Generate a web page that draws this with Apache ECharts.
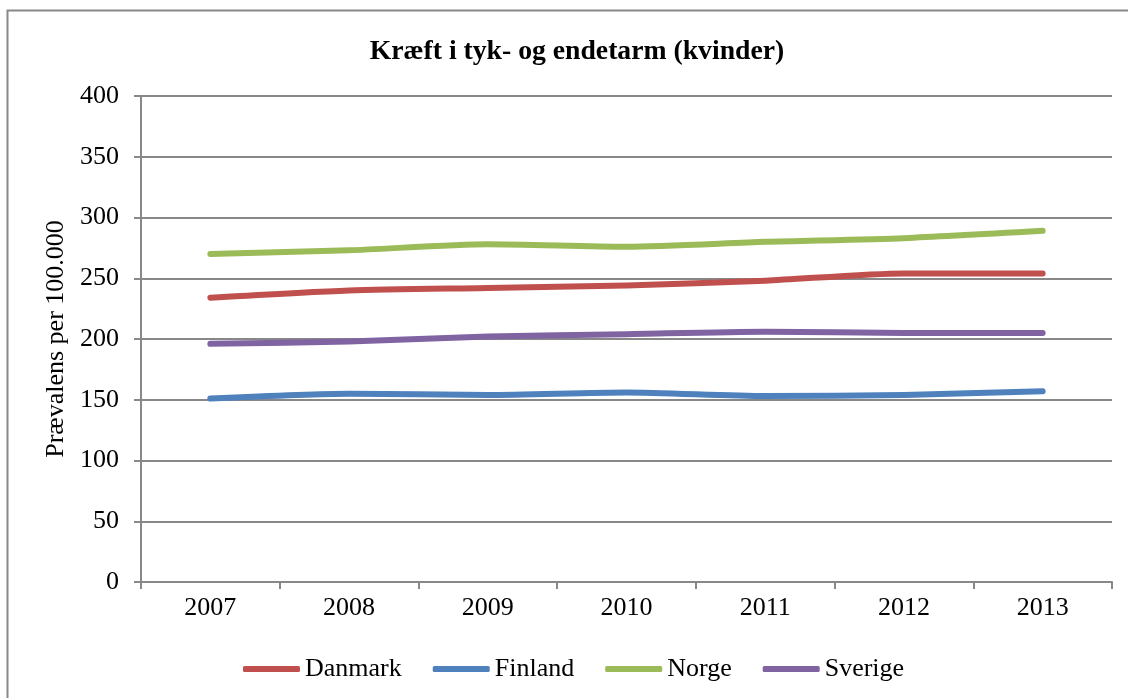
<!DOCTYPE html>
<html><head><meta charset="utf-8">
<script src="https://cdn.jsdelivr.net/npm/echarts@6/dist/echarts.min.js"></script>
<style>html,body{margin:0;padding:0;background:#fff}#c{width:1128px;height:698px}</style>
</head><body><div id="c"></div>
<script>
const years = ['2007','2008','2009','2010','2011','2012','2013'];
const danmark = [234, 240, 242, 244, 248, 254, 254];
const finland = [151, 155, 154, 156, 153, 154, 157];
const norge   = [270, 273, 278, 276, 280, 283, 289];
const sverige = [196, 198, 202, 204, 206, 205, 205];
const yTicks = [0, 50, 100, 150, 200, 250, 300, 350, 400];

const font = '"Liberation Serif", "Times New Roman", serif';
const chart = echarts.init(document.getElementById('c'), null, {renderer:'canvas'});
function ser(name, data, color){
  return {name, type:'line', data, smooth:0.25, symbol:'none',
    lineStyle:{width:6, color, cap:'round', join:'round'}, itemStyle:{color}};
}
chart.setOption({
  animation:false,
  graphic:[{type:'rect', shape:{x:7.5, y:10.5, width:1140, height:700},
    style:{fill:'none', stroke:'#888', lineWidth:2}, silent:true}],
  title:{text:'Kræft i tyk- og endetarm (kvinder)', left:572, top:33, textAlign:'center',
    textStyle:{fontFamily:font, fontWeight:'bold', fontSize:27.7, color:'#000'}},
  grid:{left:141, right:16, top:96, bottom:116, containLabel:false},
  legend:{top:651, left:238, itemWidth:57, itemHeight:6, itemGap:31,
    icon:'roundRect',
    textStyle:{fontFamily:font, fontSize:26, color:'#000'},
    data:['Danmark','Finland','Norge','Sverige']},
  xAxis:{type:'category', data:years, boundaryGap:true,
    axisLine:{lineStyle:{color:'#888', width:2}},
    axisTick:{show:true, length:7, lineStyle:{color:'#888', width:2}},
    axisLabel:{fontFamily:font, fontSize:26, color:'#000', margin:13}},
  yAxis:{type:'value', min:yTicks[0], max:yTicks[yTicks.length-1], interval:50,
    name:'Prævalens per 100.000', nameLocation:'middle', nameGap:68, nameRotate:90,
    nameTextStyle:{fontFamily:font, fontSize:26, color:'#000'},
    axisLine:{show:true, lineStyle:{color:'#888', width:2}},
    axisTick:{show:true, inside:false, length:7, lineStyle:{color:'#888', width:2}},
    axisLabel:{fontFamily:font, fontSize:26, color:'#000', margin:22},
    splitLine:{lineStyle:{color:'#888', width:2}}},
  series:[ser('Danmark',danmark,'#C0504D'), ser('Finland',finland,'#4F81BD'),
          ser('Norge',norge,'#9BBB59'), ser('Sverige',sverige,'#8064A2')]
});
</script></body></html>
